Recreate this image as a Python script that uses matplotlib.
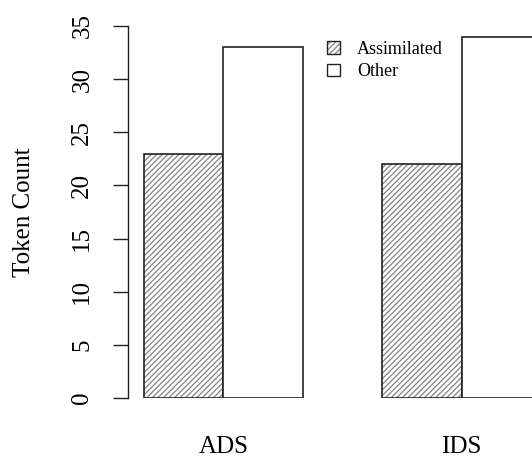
import matplotlib
matplotlib.use("Agg")
import matplotlib.pyplot as plt
from matplotlib.patches import Patch

plt.rcParams['font.family'] = ['Liberation Serif', 'DejaVu Serif']
plt.rcParams['hatch.linewidth'] = 1.0

groups = ["ADS", "IDS"]
series = ["Assimilated", "Other"]
assimilated = [23, 22]
other = [33, 34]
y_ticks = [0, 5, 10, 15, 20, 25, 30, 35]

fig = plt.figure(figsize=(5.32, 4.58), dpi=100)
ax = fig.add_axes([128 / 532, 60 / 458, 404 / 532, 372 / 458])

# R-style barplot positions: bars of width 1, one bar gap between groups
left_assim = [1, 4]
left_other = [2, 5]

# hatched layer, then outline layer
ax.bar(left_assim, assimilated, width=1, align='edge', facecolor='white',
       edgecolor='#8c8c8c', hatch='//////', linewidth=0)
ax.bar(left_assim, assimilated, width=1, align='edge', facecolor='none',
       edgecolor='#222222', linewidth=1.2)
ax.bar(left_other, other, width=1, align='edge', facecolor='white',
       edgecolor='#222222', linewidth=1.2)

ax.set_xlim(1 - 16 / 79.4, 1 + (532 - 144) / 79.4)
ax.set_ylim(0, 35)

for s in ['top', 'right', 'bottom']:
    ax.spines[s].set_visible(False)
ax.spines['left'].set_bounds(0, 35)
ax.spines['left'].set_linewidth(1.0)
ax.spines['left'].set_color('#222222')

ax.set_yticks(y_ticks)
ax.set_yticklabels([str(t) for t in y_ticks], rotation=90, va='center',
                   fontsize=18)
ax.tick_params(axis='y', length=11, width=1.0, pad=14, color='#222222')

ax.set_xticks([2, 5])
ax.set_xticklabels(groups, fontsize=18)
ax.tick_params(axis='x', length=0, pad=27.5)

ax.set_ylabel("Token Count", fontsize=18)
ax.yaxis.set_label_coords(-93 / 404, 0.5)

h_assim = (Patch(facecolor='white', edgecolor='#8c8c8c', hatch='//////', linewidth=0),
           Patch(facecolor='none', edgecolor='#222222', linewidth=1.0))
h_other = Patch(facecolor='white', edgecolor='#222222', linewidth=1.0)
ax.legend([h_assim, h_other], series, loc='upper left',
          bbox_to_anchor=(327 / 532, 1 - 41 / 458), bbox_transform=fig.transFigure,
          frameon=False, fontsize=13, handlelength=0.7, handleheight=0.7,
          handletextpad=0.95, labelspacing=0.3, borderpad=0, borderaxespad=0)

fig.savefig("out.png", dpi=100)
